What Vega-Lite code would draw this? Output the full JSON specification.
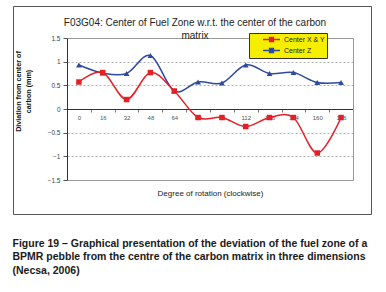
{
  "$schema": "https://vega.github.io/schema/vega-lite/v6.json",
  "padding": {"left": 12, "top": 5, "right": 0, "bottom": 0},
  "autosize": {"type": "pad"},
  "background": "white",
  "config": {"view": {"stroke": "#555", "strokeWidth": 1}, "font": "Liberation Sans"},
  "title": {
    "text": ["Figure 19 – Graphical presentation of the deviation of the fuel zone of a", "BPMR pebble from the centre of the carbon matrix in three dimensions", "(Necsa, 2006)"],
    "orient": "bottom", "anchor": "start", "font": "Liberation Sans", "fontWeight": "bold",
    "fontSize": 10.5, "lineHeight": 13.5, "baseline": "top", "offset": 24, "color": "#1a1a1a"
  },
  "vconcat": [
    {
      "width": 358,
      "height": 208,
      "title": {
        "text": ["F03G04: Center of Fuel Zone w.r.t. the center of the carbon", "matrix"],
        "font": "Liberation Sans", "fontSize": 10, "fontWeight": "normal", "color": "#222",
        "anchor": "middle", "frame": "group", "baseline": "top", "offset": -35, "lineHeight": 13, "dx": 3
      },
      "data": {
        "values": [
          {"deg": 0, "series": "Center Z", "val": 0.93},
          {"deg": 16, "series": "Center Z", "val": 0.76},
          {"deg": 32, "series": "Center Z", "val": 0.75},
          {"deg": 48, "series": "Center Z", "val": 1.13},
          {"deg": 64, "series": "Center Z", "val": 0.38},
          {"deg": 80, "series": "Center Z", "val": 0.57},
          {"deg": 96, "series": "Center Z", "val": 0.55},
          {"deg": 112, "series": "Center Z", "val": 0.93},
          {"deg": 128, "series": "Center Z", "val": 0.75},
          {"deg": 144, "series": "Center Z", "val": 0.77},
          {"deg": 160, "series": "Center Z", "val": 0.56},
          {"deg": 176, "series": "Center Z", "val": 0.56},
          {"deg": 0, "series": "Center X & Y", "val": 0.57},
          {"deg": 16, "series": "Center X & Y", "val": 0.77},
          {"deg": 32, "series": "Center X & Y", "val": 0.2},
          {"deg": 48, "series": "Center X & Y", "val": 0.77},
          {"deg": 64, "series": "Center X & Y", "val": 0.38},
          {"deg": 80, "series": "Center X & Y", "val": -0.18},
          {"deg": 96, "series": "Center X & Y", "val": -0.18},
          {"deg": 112, "series": "Center X & Y", "val": -0.37},
          {"deg": 128, "series": "Center X & Y", "val": -0.18},
          {"deg": 144, "series": "Center X & Y", "val": -0.18},
          {"deg": 160, "series": "Center X & Y", "val": -0.93},
          {"deg": 176, "series": "Center X & Y", "val": -0.18}
        ]
      },
      "encoding": {
        "x": {
          "field": "deg", "type": "ordinal",
          "scale": {"type": "band", "range": [54, 340], "paddingInner": 0, "paddingOuter": 0},
          "axis": {
            "orient": "bottom", "offset": -105, "tickBand": "extent",
            "domainColor": "#333", "domainWidth": 1, "tickColor": "#777", "tickSize": 3,
            "labelFontSize": 6, "labelColor": "#555", "labelPadding": 2, "labelAngle": 0, "labelOverlap": false,
            "grid": false,
            "title": "Degree of rotation (clockwise)", "titleFontSize": 8, "titleFontWeight": "normal",
            "titleColor": "#222", "titleY": 84, "titleBaseline": "middle"
          }
        },
        "color": {
          "field": "series", "type": "nominal",
          "scale": {"domain": ["Center X & Y", "Center Z"], "range": ["#e41f26", "#2e4a9e"]},
          "legend": {
            "orient": "none", "legendX": 236, "legendY": 27, "title": null,
            "fillColor": "#f5ee00", "strokeColor": "#333", "padding": 2,
            "labelFontSize": 7, "labelColor": "#222", "labelFont": "Liberation Sans",
            "symbolType": "M-2.43,0H2.43M-0.57,-0.57H0.57V0.57H-0.57Z",
            "symbolSize": 49, "symbolStrokeWidth": 1.3, "symbolOffset": 16, "labelOffset": 8, "rowPadding": 0,
            "encode": {
              "symbols": {
                "update": {
                  "fill": {"scale": "color", "field": "value"},
                  "stroke": {"scale": "color", "field": "value"},
                  "opacity": {"value": 1}
                }
              }
            }
          }
        }
      },
      "layer": [
        {
          "mark": {"type": "line", "interpolate": "cardinal", "strokeWidth": 1.5},
          "encoding": {
            "y": {
              "field": "val", "type": "quantitative",
              "scale": {"domain": [-1.5, 1.5], "range": [174, 32], "nice": false, "zero": false},
              "axis": {
                "orient": "left", "offset": -54,
                "values": [-1.5, -1, -0.5, 0, 0.5, 1, 1.5], "format": "~g",
                "domainColor": "#333", "tickColor": "#555", "tickSize": 4,
                "labelFontSize": 6.5, "labelColor": "#444", "labelPadding": 3,
                "grid": true,
                "gridColor": {"condition": {"test": "abs(datum.value) == 1.5", "value": "#999"}, "value": "#b0b0b0"},
                "gridDash": {"condition": {"test": "abs(datum.value) == 1.5", "value": []}, "value": [2, 2]},
                "title": ["Diviation from center of", "carbon (mm)"],
                "titleFontSize": 7.2, "titleFontWeight": "bold", "titleColor": "#111",
                "titlePadding": 15, "titleLineHeight": 10, "titleY": 85
              }
            }
          }
        },
        {
          "transform": [{"filter": "datum.series === 'Center Z'"}],
          "mark": {"type": "point", "filled": true, "size": 34, "opacity": 1, "shape": "triangle-up"},
          "encoding": {
            "y": {
              "field": "val", "type": "quantitative",
              "scale": {"domain": [-1.5, 1.5], "range": [174, 32], "nice": false, "zero": false},
              "axis": {
                "orient": "right", "offset": -18, "domainColor": "#999",
                "labels": false, "ticks": false, "grid": false, "title": null
              }
            }
          }
        },
        {
          "transform": [{"filter": "datum.series === 'Center X & Y'"}],
          "mark": {"type": "point", "filled": true, "size": 30, "opacity": 1, "shape": "square"},
          "encoding": {
            "y": {
              "field": "val", "type": "quantitative",
              "scale": {"domain": [-1.5, 1.5], "range": [174, 32], "nice": false, "zero": false},
              "axis": null
            }
          }
        }
      ],
      "resolve": {"axis": {"y": "independent"}}
    }
  ]
}
